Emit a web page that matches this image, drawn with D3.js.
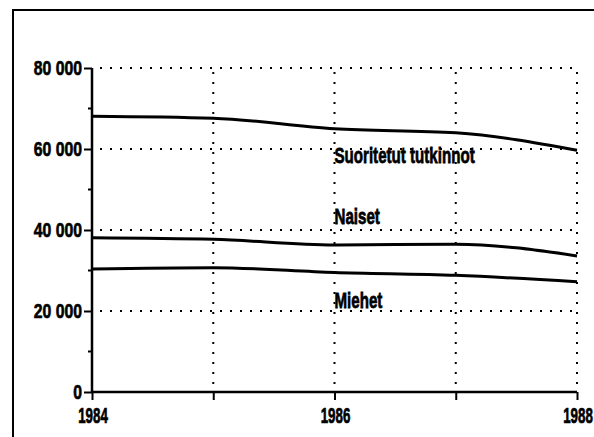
<!DOCTYPE html>
<html>
  <head>
    <meta charset="utf-8">
    <title>Suoritetut tutkinnot 1984-1988</title>
    <style>
      body { margin: 0; background: #fff; }
      text { font-family: "Liberation Sans", Arial, sans-serif; font-weight: bold; fill: #000; stroke: #000; stroke-width: 0.6px; }
    </style>
  </head>
  <body>
    <script src="https://d3js.org/d3.v7.min.js"></script>
    <script>

var years = [1984, 1985, 1986, 1987, 1988],
    yearLabels = [1984, 1986, 1988];

var tutkinnot = [68100, 67600, 65000, 64000, 59700],
    naiset = [38100, 37700, 36300, 36500, 33600],
    miehet = [30400, 30700, 29500, 28800, 27200];

var seriesNames = ["Suoritetut tutkinnot", "Naiset", "Miehet"];
var yTicks = [0, 20000, 40000, 60000, 80000],
    yMinor = [10000, 30000, 50000, 70000];

var width = 594,
    height = 437;

var x = d3.scaleLinear().domain([1984, 1988]).range([92, 577]);
var y = d3.scaleLinear().domain([0, 80000]).range([392, 68]);

var svg = d3.select("body").append("svg")
    .attr("width", width)
    .attr("height", height);

// frame: only the left and top edges show on the scan
svg.append("path")
    .attr("d", "M13," + height + "V10H" + width)
    .attr("fill", "none")
    .attr("stroke", "#000")
    .attr("stroke-width", 2);

// dotted grid
svg.selectAll(".hgrid")
  .data(yTicks.slice(1))
  .enter().append("line")
    .attr("x1", x(1984)).attr("x2", x(1988))
    .attr("y1", function (d) { return y(d); })
    .attr("y2", function (d) { return y(d); })
    .attr("stroke", "#000")
    .attr("stroke-width", 2)
    .attr("stroke-dasharray", "2,8")
    .attr("stroke-dashoffset", -8);

svg.selectAll(".vgrid")
  .data(years.slice(1))
  .enter().append("line")
    .attr("x1", function (d) { return x(d); })
    .attr("x2", function (d) { return x(d); })
    .attr("y1", y(0)).attr("y2", y(80000))
    .attr("stroke", "#000")
    .attr("stroke-width", 2)
    .attr("stroke-dasharray", "2,8")
    .attr("stroke-dashoffset", -8);

// axes
var yAxis = d3.axisLeft(y)
    .tickValues(yTicks)
    .tickSize(8)
    .tickFormat("");

var gy = svg.append("g")
    .attr("transform", "translate(" + x(1984) + ",0)")
    .call(yAxis);

gy.select(".domain").attr("stroke-width", 2.5).attr("d", "M0," + y(80000) + "V" + y(0));
gy.selectAll(".tick line").attr("stroke-width", 2);

gy.selectAll(".minor")
  .data(yMinor)
  .enter().append("line")
    .attr("x1", -4).attr("x2", 0)
    .attr("y1", function (d) { return y(d); })
    .attr("y2", function (d) { return y(d); })
    .attr("stroke", "#000")
    .attr("stroke-width", 2);

// condensed tick labels
svg.selectAll(".ylab")
  .data(yTicks)
  .enter().append("text")
    .attr("text-anchor", "end")
    .attr("transform", function (d) { return "translate(" + (x(1984) - 10) + "," + (y(d) + 7) + ") scale(0.83,1.05)"; })
    .style("font-size", "19px")
    .text(function (d) { return d === 0 ? "0" : d3.format(",")(d).replace(",", " "); });

var xAxis = d3.axisBottom(x)
    .tickValues(years)
    .tickSize(8)
    .tickFormat("");

var gx = svg.append("g")
    .attr("transform", "translate(0," + y(0) + ")")
    .call(xAxis);

gx.select(".domain").attr("stroke-width", 2.5).attr("d", "M" + x(1984) + ",0H" + x(1988));
gx.selectAll(".tick line").attr("stroke-width", 2);

svg.selectAll(".year")
  .data(yearLabels)
  .enter().append("text")
    .attr("text-anchor", "middle")
    .attr("transform", function (d) { return "translate(" + (x(d) + 1) + ",423) scale(0.74,1.25)"; })
    .style("font-size", "18px")
    .text(function (d) { return d; });

// series lines
var line = d3.line()
    .x(function (d, i) { return x(years[i]); })
    .y(function (d) { return y(d); })
    .curve(d3.curveMonotoneX);

svg.selectAll(".series")
  .data([tutkinnot, naiset, miehet])
  .enter().append("path")
    .attr("d", line)
    .attr("fill", "none")
    .attr("stroke", "#000")
    .attr("stroke-width", 3);

// series labels, placed at the 1986 grid line
var labelY = [163, 224, 308];

svg.selectAll(".label")
  .data(seriesNames)
  .enter().append("text")
    .attr("transform", function (d, i) { return "translate(" + x(1986) + "," + labelY[i] + ") scale(0.84,1.25)"; })
    .style("font-size", "18px")
    .text(function (d) { return d; });

    </script>
  </body>
</html>
